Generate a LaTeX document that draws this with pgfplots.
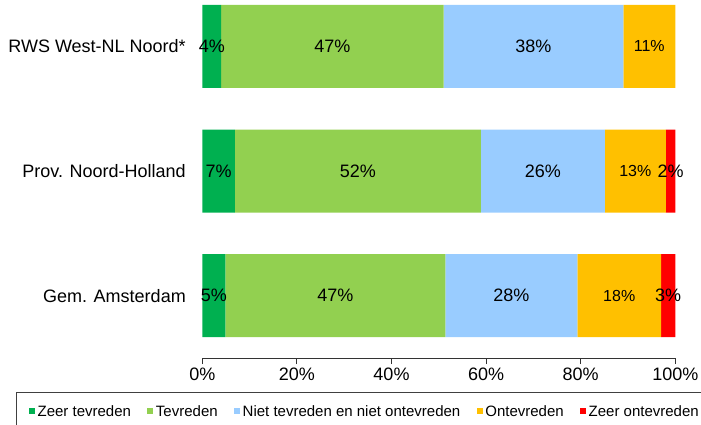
\documentclass[border=0pt]{standalone}
\usepackage{pgfplots}
\pgfplotsset{compat=1.18}
\usepackage{pgfplotstable}
\usepackage{fontspec}
\setmainfont{Liberation Sans}

\definecolor{zeertev}{HTML}{00B050}
\definecolor{tev}{HTML}{92D050}
\definecolor{neutraal}{HTML}{99CCFF}
\definecolor{ontev}{HTML}{FFC000}
\definecolor{zeeront}{HTML}{FF0000}

% y: 0 = Gem. Amsterdam, 1 = Prov. Noord-Holland, 2 = RWS West-NL Noord*
\pgfplotstableread{
y   zt   t     n     o     zo
0   4.9  46.5  27.9  17.7  3.0
1   6.9  52.0  26.2  12.9  2.0
2   4.0  47.0  38.0  11.0  0.0
}\scores

\pgfplotsset{
  frame/.style={width=473pt, height=358pt, scale only axis,
    at={(0pt,0pt)}, anchor=south west,
    xmin=0, xmax=100, ymin=-0.5, ymax=2.373},
  sq/.style={legend image code/.code={\fill[##1] (0pt,-3pt) rectangle (6pt,3pt);}},
  lbl/.style={draw=none, mark=none, nodes near coords, point meta=explicit symbolic,
    every node near coord/.style={anchor=center, inner sep=0pt,
      font=\fontsize{18}{20}\selectfont}},
}

\begin{document}
\begin{tikzpicture}
\path[use as bounding box] (-202.3pt,-67pt) rectangle (498.7pt,358pt);
\clip (-202.3pt,-67pt) rectangle (498.7pt,358pt);
\begin{axis}[frame, xbar stacked, bar width=83pt,
    axis lines*=left,
    axis line style={black!80, line width=0.8pt},
    y axis line style={draw=none},
    ytick style={draw=none},
    tick align=outside, major tick length=6pt,
    xtick style={black!80, line width=0.8pt},
    xtick={0,20,...,100}, xticklabels={0\%,20\%,40\%,60\%,80\%,100\%},
    ytick={0,1,2},
    yticklabels={Gem. Amsterdam,Prov. Noord-Holland,RWS West-NL Noord*},
    ticklabel style={font=\fontsize{18}{20}\selectfont},
    yticklabel style={xshift=-7pt},
    legend columns=-1,
    legend style={at={(axis description cs:-0.3945,-0.0958)}, anchor=north west,
      draw=black!75, line width=0.8pt, font=\fontsize{15}{17}\selectfont,
      inner xsep=13pt, inner ysep=9.5pt,
      nodes={inner xsep=2.5pt, inner ysep=3pt},
      /tikz/every even column/.append style={column sep=14pt}},
  ]
  \addplot[sq, fill=zeertev, draw=none] table[x=zt, y=y] {\scores};
  \addplot[sq, fill=tev, draw=none] table[x=t, y=y] {\scores};
  \addplot[sq, fill=neutraal, draw=none] table[x=n, y=y] {\scores};
  \addplot[sq, fill=ontev, draw=none] table[x=o, y=y] {\scores};
  \addplot[sq, fill=zeeront, draw=none] table[x=zo, y=y] {\scores};
  \legend{Zeer tevreden,Tevreden,Niet tevreden en niet ontevreden,Ontevreden,Zeer ontevreden}
\end{axis}
% segment labels, centred in each segment
\begin{axis}[frame, hide axis]
  \addplot[lbl] coordinates {
    (2.45,0) [5\%]  (28.15,0) [47\%]  (65.35,0) [28\%]  (98.5,0) [3\%]
    (3.45,1) [7\%]  (32.9,1) [52\%]   (72.0,1) [26\%]   (99.0,1) [2\%]
    (2.0,2) [4\%]   (27.5,2) [47\%]   (70.0,2) [38\%]
  };
  \addplot[lbl, every node near coord/.append style={font=\fontsize{16}{18}\selectfont}]
    coordinates {(88.15,0) [18\%] (91.55,1) [13\%] (94.5,2) [11\%]};
\end{axis}
\end{tikzpicture}
\end{document}
